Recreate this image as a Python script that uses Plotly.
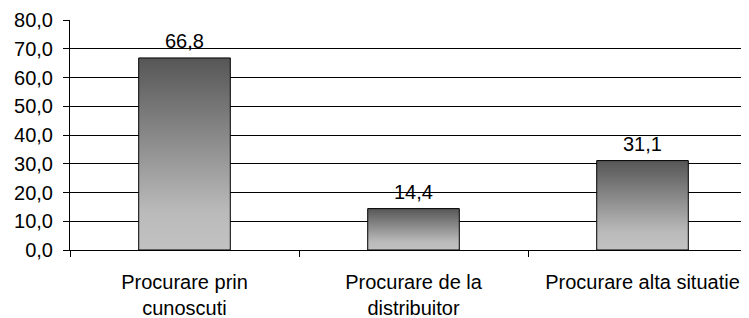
import plotly.graph_objects as go

categories = ["Procurare prin<br>cunoscuti", "Procurare de la<br>distribuitor", "Procurare alta situatie"]
values = [66.8, 14.4, 31.1]
y_ticks = [0, 10, 20, 30, 40, 50, 60, 70, 80]

bar_width = 0.4
gradient = [[0.0, "#c2c2c2"], [0.2, "#bababa"], [1.0, "#565656"]]
font = dict(family="Liberation Sans, Arial, sans-serif", size=20, color="#000000")

fig = go.Figure()
for i, v in enumerate(values):
    x0, x1 = i - bar_width / 2, i + bar_width / 2
    fig.add_trace(go.Scatter(
        x=[x0, x1, x1, x0, x0],
        y=[0, 0, v, v, 0],
        mode="lines",
        fill="toself",
        fillgradient=dict(type="vertical", colorscale=gradient),
        line=dict(color="#000000", width=1),
        hoverinfo="skip",
        showlegend=False,
    ))
    fig.add_annotation(
        x=i, y=v, text=f"{v:.1f}".replace(".", ","),
        showarrow=False, yanchor="bottom", yshift=4, font=font,
    )

# the page body adds an 8px offset, so the figure is 8px smaller than the window
fig.update_layout(
    width=741, height=310,
    margin=dict(l=62, r=0, t=12, b=68),
    paper_bgcolor="white", plot_bgcolor="white",
    separators=",.",
    font=font,
    showlegend=False,
)
fig.update_xaxes(
    range=[-0.5, 2.465], automargin=False,
    tickmode="array", tickvals=list(range(len(categories))), ticktext=categories,
    ticks="", showgrid=False, zeroline=False,
    showline=True, linecolor="#000000", linewidth=1,
    minor=dict(tickmode="array", tickvals=[-0.5, 0.5, 1.5, 2.5], ticks="outside",
               ticklen=6, tickcolor="#000000", tickwidth=1, showgrid=False),
    ticklabelstandoff=14,
    tickfont=font,
)
fig.update_yaxes(
    range=[0, 80], automargin=False,
    tickmode="array", tickvals=y_ticks, tickformat=".1f",
    ticks="outside", ticklen=6, tickcolor="#000000",
    showline=True, linecolor="#000000", linewidth=1,
    showgrid=True, gridcolor="#000000", gridwidth=1, zeroline=False,
    ticklabelstandoff=6,
    tickfont=font,
)

fig.write_html("out.html")
